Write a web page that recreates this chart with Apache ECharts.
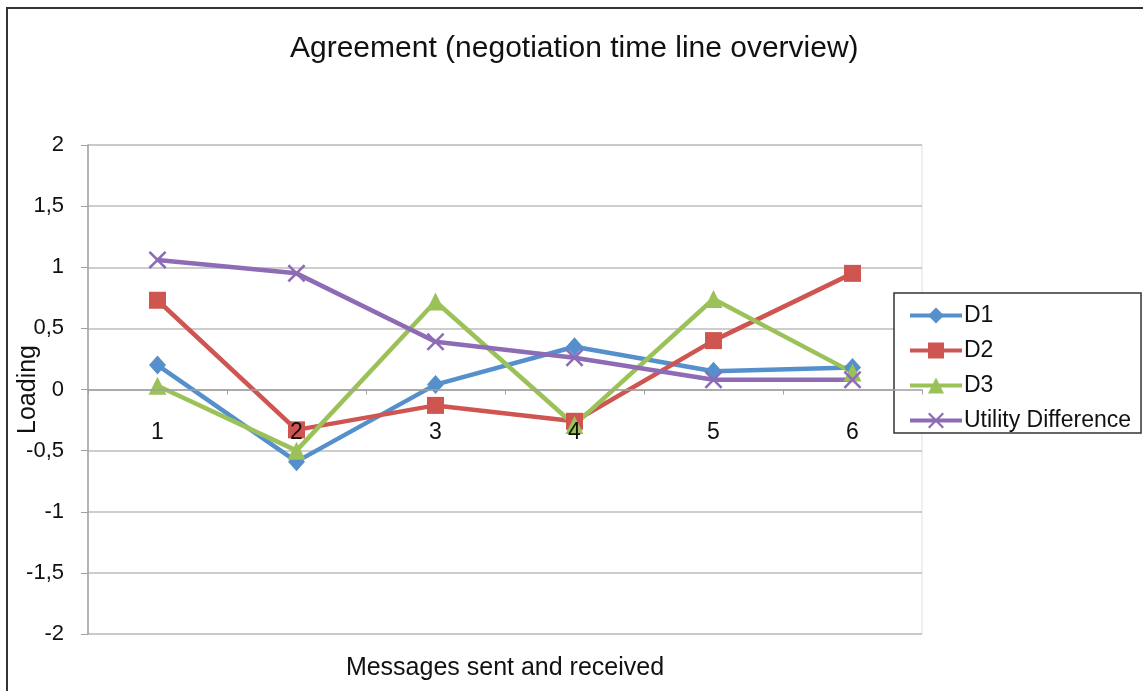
<!DOCTYPE html>
<html>
<head>
<meta charset="utf-8">
<title>Agreement (negotiation time line overview)</title>
<script src="https://cdn.jsdelivr.net/npm/echarts@6/dist/echarts.min.js"></script>
<style>
  html, body { margin: 0; padding: 0; background: #ffffff; }
  #chart { width: 1143px; height: 691px; }
</style>
</head>
<body>
<div id="chart"></div>
<script>
// Message rounds along the horizontal axis
const categories = ['1', '2', '3', '4', '5', '6'];

// Loadings per round
const d1 = [0.20, -0.59, 0.04, 0.35, 0.15, 0.18];
const d2 = [0.73, -0.33, -0.13, -0.26, 0.40, 0.95];
const d3 = [0.03, -0.50, 0.72, -0.29, 0.74, 0.14];
const utilityDifference = [1.06, 0.95, 0.39, 0.26, 0.08, 0.08];

// Value axis tick labels (comma decimal separator)
const yTickLabels = ['-2', '-1,5', '-1', '-0,5', '0', '0,5', '1', '1,5', '2'];

const FONT = '"Liberation Sans", Arial, Helvetica, sans-serif';
const crossSymbol = 'path://M0,1L1,0L5,4L9,0L10,1L6,5L10,9L9,10L5,6L1,10L0,9L4,5Z';

// Plot area geometry
const GRID_TOP = 145;
const GRID_BOTTOM = 57;
const CHART_H = 691;
const Y_MIN = -2;
const Y_MAX = 2;
// Shift the category axis up so it sits on the zero line
const plotH = CHART_H - GRID_TOP - GRID_BOTTOM;
const zeroOffset = -plotH * (0 - Y_MIN) / (Y_MAX - Y_MIN);

const chart = echarts.init(document.getElementById('chart'), null, { renderer: 'canvas' });

function lineSeries(name, data, color, symbol, size) {
  return {
    name: name,
    type: 'line',
    data: data,
    symbol: symbol,
    symbolSize: size,
    showSymbol: true,
    lineStyle: { color: color, width: 4.5 },
    itemStyle: { color: color },
    emphasis: { disabled: true },
    animation: false
  };
}

chart.setOption({
  backgroundColor: '#ffffff',
  animation: false,
  textStyle: { fontFamily: FONT },
  title: {
    text: 'Agreement (negotiation time line overview)',
    left: 290,
    top: 34,
    padding: 0,
    textStyle: { fontFamily: FONT, fontSize: 30, fontWeight: 'normal', color: '#111' }
  },
  graphic: [
    {
      type: 'rect',
      silent: true,
      shape: { x: 7, y: 8, width: 1300, height: 800 },
      style: { fill: 'none', stroke: '#333', lineWidth: 2 }
    },
    {
      type: 'text',
      silent: true,
      x: 505,
      y: 668,
      style: {
        text: 'Messages sent and received',
        fontFamily: FONT,
        fontSize: 25,
        fill: '#111',
        textAlign: 'center',
        textVerticalAlign: 'middle'
      }
    }
  ],
  legend: {
    orient: 'vertical',
    left: 894,
    top: 293,
    padding: [11, 10, 1, 14],
    itemGap: 12,
    itemWidth: 52,
    itemHeight: 20,
    borderColor: '#333',
    borderWidth: 1.5,
    backgroundColor: '#fff',
    lineStyle: { width: 4 },
    textStyle: { fontFamily: FONT, fontSize: 23, color: '#111', padding: [0, 0, 0, -3] },
    data: ['D1', 'D2', 'D3', 'Utility Difference']
  },
  grid: {
    left: 88,
    right: 221,
    top: GRID_TOP,
    bottom: GRID_BOTTOM,
    outerBoundsMode: 'none',
    containLabel: false,
    show: true,
    borderColor: '#e0e0e0',
    borderWidth: 1
  },
  xAxis: {
    type: 'category',
    data: categories,
    boundaryGap: true,
    offset: zeroOffset,
    z: 5,
    axisLine: { onZero: false, lineStyle: { color: '#a0a0a0', width: 1.5 } },
    axisTick: { show: true, length: 5, inside: false, lineStyle: { color: '#a0a0a0' } },
    axisLabel: { margin: 32, fontFamily: FONT, fontSize: 23, color: '#111' },
    splitLine: { show: false }
  },
  yAxis: {
    type: 'value',
    min: Y_MIN,
    max: Y_MAX,
    interval: 0.5,
    name: 'Loading',
    nameLocation: 'middle',
    nameGap: 47,
    nameMoveOverlap: false,
    nameTextStyle: { fontFamily: FONT, fontSize: 25, color: '#111' },
    axisLine: { show: true, lineStyle: { color: '#a0a0a0', width: 1.5 } },
    axisTick: { show: true, length: 7, inside: false, lineStyle: { color: '#a0a0a0' } },
    axisLabel: {
      margin: 24,
      fontFamily: FONT,
      fontSize: 22,
      color: '#111',
      formatter: function (v) {
        const idx = Math.round((v - Y_MIN) / 0.5);
        return yTickLabels[idx];
      }
    },
    splitLine: { show: true, lineStyle: { color: '#bdbdbd', width: 1.5 } }
  },
  series: [
    lineSeries('D1', d1, '#5590cc', 'diamond', [17, 19]),
    lineSeries('D2', d2, '#cf5550', 'rect', 17),
    lineSeries('D3', d3, '#9bc159', 'triangle', 18),
    lineSeries('Utility Difference', utilityDifference, '#8d6cb5', crossSymbol, 18)
  ]
});
</script>
</body>
</html>
